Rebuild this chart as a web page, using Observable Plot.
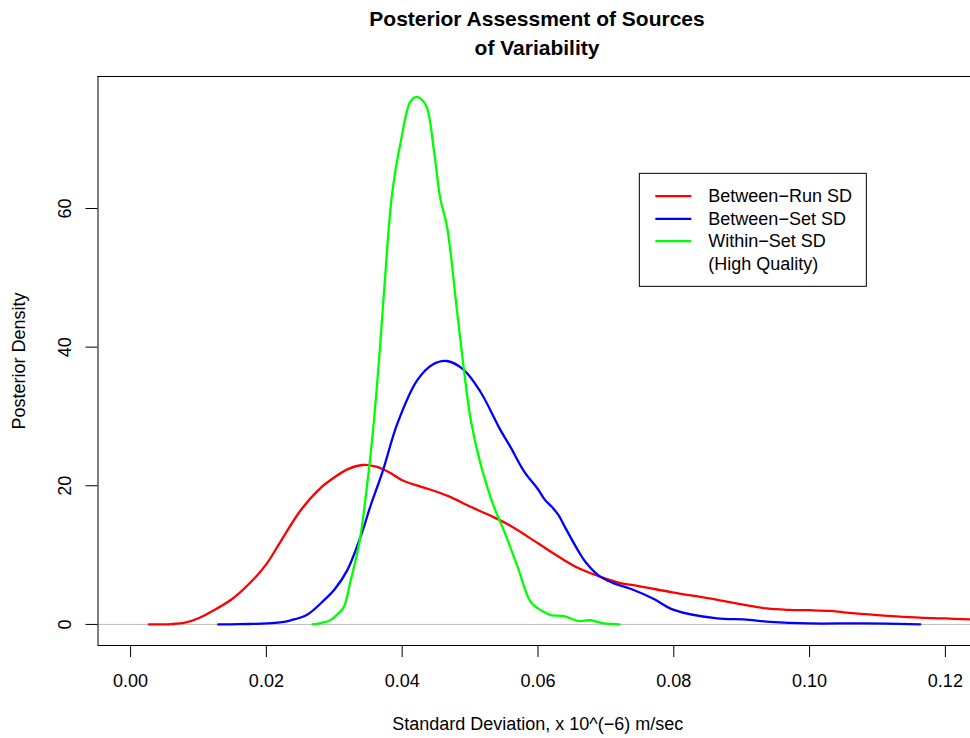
<!DOCTYPE html>
<html>
<head>
<meta charset="utf-8">
<script src="https://cdn.jsdelivr.net/npm/d3@7"></script>
<script src="https://cdn.jsdelivr.net/npm/@observablehq/plot@0.6"></script>
<style>
  html, body { margin: 0; padding: 0; background: #fff; overflow: hidden; }
  body { font-family: "Liberation Sans", Arial, Helvetica, sans-serif; }
  #title { width: 880px; margin-left: 97px; height: 62px; padding-top: 4px; text-align: center;
           font-weight: bold; font-size: 21px; line-height: 29px; color: #000; }
</style>
</head>
<body>
<div id="title">Posterior Assessment of Sources<br>of Variability</div>
<div id="chart"></div>
<script>
// ---- data ----
const seriesNames = ["Between−Run SD", "Between−Set SD", "Within−Set SD"];
const legendLabels = ["Between−Run SD", "Between−Set SD", "Within−Set SD", "(High Quality)"];
const seriesColors = ["#FF0000", "#0000FF", "#00FF00"];

const runX = [0.0027, 0.006, 0.008, 0.010, 0.012, 0.015, 0.018, 0.020, 0.022, 0.025, 0.028, 0.030, 0.032, 0.0342, 0.036, 0.038, 0.040, 0.042, 0.044, 0.0468, 0.050, 0.0532, 0.056, 0.060, 0.063, 0.066, 0.070, 0.072, 0.075, 0.080, 0.085, 0.090, 0.0937, 0.097, 0.100, 0.103, 0.105, 0.108, 0.1138, 0.120, 0.1237];
const runY = [0.0, 0.05, 0.25, 0.9, 1.9, 3.7, 6.4, 8.7, 11.8, 16.4, 19.7, 21.2, 22.4, 23.0, 22.8, 22.0, 20.8, 20.1, 19.5, 18.5, 17.0, 15.6, 14.2, 11.7, 9.8, 8.1, 6.6, 6.0, 5.5, 4.6, 3.8, 2.9, 2.3, 2.1, 2.05, 1.95, 1.75, 1.5, 1.1, 0.86, 0.72];

const setX = [0.0129, 0.016, 0.018, 0.020, 0.022, 0.0236, 0.026, 0.0285, 0.0300, 0.0319, 0.0340, 0.0353, 0.0371, 0.0393, 0.0422, 0.0445, 0.0466, 0.0491, 0.0515, 0.0545, 0.056, 0.058, 0.060, 0.061, 0.062, 0.063, 0.064, 0.066, 0.067, 0.069, 0.071, 0.074, 0.077, 0.080, 0.0864, 0.0903, 0.0942, 0.100, 0.108, 0.1163];
const setY = [0.0, 0.03, 0.08, 0.15, 0.3, 0.6, 1.4, 3.5, 5.0, 7.8, 13.0, 17.0, 22.0, 29.0, 35.2, 37.5, 38.0, 36.7, 33.6, 28.0, 25.5, 22.0, 19.5, 18.0, 17.0, 15.8, 14.0, 10.5, 9.0, 7.0, 6.0, 5.0, 3.7, 2.1, 0.86, 0.72, 0.37, 0.14, 0.15, 0.02];

const withinX = [0.0268, 0.028, 0.0294, 0.0305, 0.0314, 0.0324, 0.0332, 0.0339, 0.0347, 0.0356, 0.0365, 0.0373, 0.0385, 0.0398, 0.0412, 0.0421, 0.0430, 0.0437, 0.0447, 0.0456, 0.0466, 0.0481, 0.0491, 0.0501, 0.0515, 0.0535, 0.055, 0.057, 0.0589, 0.0605, 0.0619, 0.0638, 0.066, 0.0677, 0.0697, 0.0720];
const withinY = [0.0, 0.2, 0.6, 1.5, 2.5, 6.3, 9.5, 13.0, 19.0, 26.9, 37.0, 47.6, 62.0, 69.7, 75.4, 76.1, 75.6, 74.4, 68.2, 61.5, 57.4, 45.0, 36.7, 29.5, 23.3, 17.0, 13.5, 8.3, 3.3, 2.0, 1.34, 1.2, 0.5, 0.6, 0.14, 0.0];

const xTicks = [0.00, 0.02, 0.04, 0.06, 0.08, 0.10, 0.12];
const yTicks = [0, 20, 40, 60];
const xDomain = [-0.0048, 0.1237];
const yDomain = [-3.04, 79.04];
const legendAnchor = [0.075, 65];
const xLabel = "Standard Deviation, x 10^(−6) m/sec";
const yLabel = "Posterior Density";

// ---- build tidy table ----
const pts = [];
[[runX, runY], [setX, setY], [withinX, withinY]].forEach(([xs, ys], i) => {
  xs.forEach((x, j) => pts.push({series: seriesNames[i], x, y: ys[j]}));
});

const font = '"Liberation Sans", Arial, Helvetica, sans-serif';

function legendMark(index, scales) {
  const x0 = scales.x(legendAnchor[0]);
  const y0 = scales.y(legendAnchor[1]);
  const g = d3.create("svg:g");
  g.append("rect").attr("x", x0).attr("y", y0).attr("width", 227).attr("height", 113)
    .attr("fill", "white").attr("stroke", "#000").attr("stroke-width", 1);
  const rowDy = [22.7, 45.5, 67.8, 90.2];
  seriesColors.forEach((c, i) => {
    g.append("line").attr("x1", x0 + 16).attr("x2", x0 + 52)
      .attr("y1", y0 + rowDy[i]).attr("y2", y0 + rowDy[i])
      .attr("stroke", c).attr("stroke-width", 2.3);
  });
  legendLabels.forEach((t, i) => {
    g.append("text").attr("x", x0 + 69).attr("y", y0 + rowDy[i]).attr("dy", "0.35em")
      .attr("text-anchor", "start")
      .attr("font-size", 18).attr("font-family", font).attr("fill", "#000").text(t);
  });
  return g.node();
}

const chart = Plot.plot({
  width: 970,
  height: 672,
  marginLeft: 97.5,
  marginRight: 0,
  marginTop: 10,
  marginBottom: 93,
  x: {domain: xDomain},
  y: {domain: yDomain},
  color: {domain: seriesNames, range: seriesColors},
  style: {fontFamily: font, fontSize: "18px", background: "white", color: "#000", overflow: "visible"},
  marks: [
    Plot.ruleY([0], {stroke: "#BEBEBE", strokeWidth: 1}),
    Plot.line(pts, {x: "x", y: "y", z: "series", stroke: "series", strokeWidth: 2.3, curve: "catmull-rom", clip: true}),
    Plot.ruleX([xDomain[0]], {stroke: "#000"}),
    Plot.ruleY([yDomain[0]], {stroke: "#000"}),
    Plot.ruleY([yDomain[1]], {stroke: "#000"}),
    Plot.axisX({ticks: xTicks, tickSize: 12, tickPadding: 16.5, tickFormat: d3.format(".2f"), label: null, fontSize: 18}),
    Plot.axisY({ticks: yTicks, tickSize: 12, tickFormat: () => "", label: null}),
    Plot.text(yTicks, {y: d => d, frameAnchor: "left", dx: -32.5, rotate: -90, textAnchor: "middle", lineAnchor: "middle", fontSize: 18, text: d => String(d)}),
    Plot.text([yLabel], {frameAnchor: "left", dx: -78.5, rotate: -90, textAnchor: "middle", lineAnchor: "middle", fontSize: 18}),
    Plot.text([xLabel], {frameAnchor: "bottom", dx: 3.5, dy: 79, textAnchor: "middle", lineAnchor: "middle", fontSize: 18}),
    legendMark
  ]
});
document.getElementById("chart").appendChild(chart);
</script>
</body>
</html>
